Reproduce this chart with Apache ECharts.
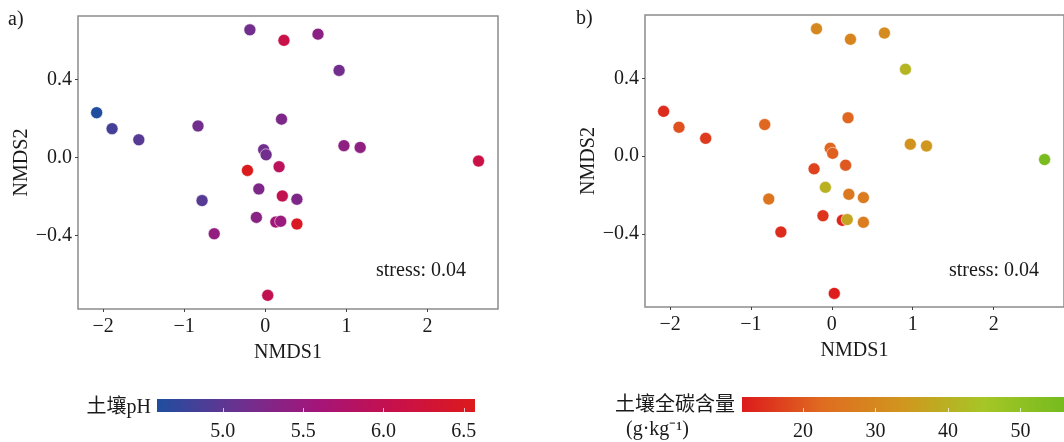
<!doctype html>
<html lang="zh" style="height: 100%">

<head>
  <meta charset="utf-8" />
  <script type="text/javascript" src="https://fastly.jsdelivr.net/npm/echarts@6.0.0/dist/echarts.min.js"></script>
</head>

<body style="height: 100%; margin: 0; background: #fff">
  <div id="main" style="width: 1064px; height: 442px"></div>
  <script type="text/javascript">
    // NMDS site scores (same ordination drawn in both panels)
    var nmds1 = [-2.08, -1.89, -1.56, -0.83, -0.78, -0.63, -0.19, 0.23, 0.65, 0.91, 0.20, -0.02, 0.01,
                 -0.22, 0.17, 0.97, 1.17, 2.63, -0.08, 0.21, 0.39, -0.11, 0.13, 0.19, 0.39, 0.03];
    var nmds2 = [0.231, 0.149, 0.092, 0.163, -0.220, -0.390, 0.656, 0.602, 0.634, 0.448, 0.198, 0.041, 0.015,
                 -0.065, -0.046, 0.062, 0.053, -0.017, -0.160, -0.196, -0.213, -0.306, -0.330, -0.326, -0.340, -0.706];
    // soil pH (panel a) and soil total carbon g/kg (panel b)
    var soilPH = [4.60, 4.85, 4.95, 5.15, 4.95, 5.45, 5.15, 6.10, 5.35, 5.15, 5.25, 5.15, 5.15,
                  6.55, 5.90, 5.40, 5.40, 6.10, 5.25, 6.00, 5.25, 5.35, 5.60, 5.50, 6.50, 6.00];
    var soilC = [14, 19, 16, 22, 25, 14, 30, 29, 31, 41, 22, 22, 21,
                 17, 20, 33, 34, 55, 40, 26, 27, 15, 13, 37, 27, 12];

    var phRange = [4.59, 6.57];
    var phTicks = [5.0, 5.5, 6.0, 6.5];
    var cRange = [11.6, 56];
    var cTicks = [20, 30, 40, 50];
    var xTicks = [-2, -1, 0, 1, 2];
    var yTicks = [-0.4, 0, 0.4];

    var phColors = ['#1f4e9f', '#6a3290', '#a3157a', '#c8104a', '#dc1a1c'];
    var cColors = ['#dc1a1c', '#e06c20', '#d0961e', '#a6c626', '#76bb1f'];

    var FONT = '"Liberation Serif", "Noto Sans CJK SC", serif';
    var chart = echarts.init(document.getElementById('main'));

    function pts(vals) {
      return nmds1.map(function (x, i) { return [x, nmds2[i], vals[i]]; });
    }
    function minus(v, d) {
      var s = Math.abs(v).toFixed(d);
      return v < 0 ? '\u2212' + s : s;
    }

    function plotAxes(gi) {
      return {
        x: {
          gridIndex: gi, type: 'value', min: -2.31, max: 2.87,
          name: 'NMDS1', nameLocation: 'middle', nameGap: 34,
          nameTextStyle: { fontFamily: FONT, fontSize: 20, color: '#1a1a1a' },
          axisLine: { show: false, onZero: false },
          axisTick: { show: true, customValues: xTicks, length: 3, lineStyle: { color: '#444' } },
          axisLabel: { customValues: xTicks, margin: 8, fontFamily: FONT, fontSize: 20, color: '#1a1a1a',
                       formatter: function (v) { return minus(v, 0); } },
          splitLine: { show: false }
        },
        y: {
          gridIndex: gi, type: 'value', min: -0.776, max: 0.727,
          name: 'NMDS2', nameLocation: 'middle', nameGap: 41,
          nameTextStyle: { fontFamily: FONT, fontSize: 20, color: '#1a1a1a' },
          axisLine: { show: false, onZero: false },
          axisTick: { show: true, customValues: yTicks, length: 3, lineStyle: { color: '#444' } },
          axisLabel: { customValues: yTicks, margin: 6, fontFamily: FONT, fontSize: 20, color: '#1a1a1a',
                       formatter: function (v) { return minus(v, 1); } },
          splitLine: { show: false }
        }
      };
    }

    function barAxes(gi, range, ticks, dec) {
      return {
        x: {
          gridIndex: gi, type: 'value', min: range[0], max: range[1], z: 5,
          axisLine: { show: false, onZero: false },
          axisTick: { show: true, inside: true, customValues: ticks, length: 4,
                      lineStyle: { color: 'rgba(255,255,255,0.7)', width: 1 } },
          axisLabel: { customValues: ticks, margin: 10, fontFamily: FONT, fontSize: 20, color: '#1a1a1a',
                       formatter: function (v) { return v.toFixed(dec); } },
          splitLine: { show: false }
        },
        y: { gridIndex: gi, type: 'value', min: 0, max: 1, show: false }
      };
    }

    function barSeries(idx, range, colors) {
      return {
        type: 'custom', xAxisIndex: idx, yAxisIndex: idx, silent: true,
        data: [[range[0], range[1]]],
        renderItem: function (params, api) {
          var a = api.coord([api.value(0), 1]);
          var b = api.coord([api.value(1), 0]);
          var stops = colors.map(function (c, i) { return { offset: i / (colors.length - 1), color: c }; });
          return {
            type: 'rect',
            shape: { x: a[0], y: a[1], width: b[0] - a[0], height: b[1] - a[1] },
            style: { fill: new echarts.graphic.LinearGradient(0, 0, 1, 0, stops) }
          };
        }
      };
    }

    var pa = plotAxes(0), pb = plotAxes(1);
    var ba = barAxes(2, phRange, phTicks, 1), bb = barAxes(3, cRange, cTicks, 0);

    function scatter(idx, vals) {
      return {
        type: 'scatter', xAxisIndex: idx, yAxisIndex: idx,
        data: pts(vals), symbolSize: 12,
        itemStyle: { opacity: 1, borderColor: 'rgba(255,255,255,0.55)', borderWidth: 1 }
      };
    }

    var option = {
      animation: false,
      grid: [
        { left: 78, top: 16, width: 420, height: 293, show: true, borderColor: '#8c8c8c', borderWidth: 1.5 },
        { left: 645, top: 15, width: 420, height: 292, show: true, borderColor: '#8c8c8c', borderWidth: 1.5 },
        { left: 157, top: 399, width: 318, height: 18 },
        { left: 742, top: 397, width: 345, height: 19 }
      ],
      xAxis: [pa.x, pb.x, ba.x, bb.x],
      yAxis: [pa.y, pb.y, ba.y, bb.y],
      visualMap: [
        { type: 'continuous', show: false, seriesIndex: 0, dimension: 2,
          min: phRange[0], max: phRange[1], inRange: { color: phColors } },
        { type: 'continuous', show: false, seriesIndex: 1, dimension: 2,
          min: cRange[0], max: cRange[1], inRange: { color: cColors } }
      ],
      series: [
        scatter(0, soilPH),
        scatter(1, soilC),
        barSeries(2, phRange, phColors),
        barSeries(3, cRange, cColors)
      ],
      graphic: [
        { type: 'text', left: 8, top: 10, style: { text: 'a)', font: '20px ' + FONT, fill: '#1a1a1a' } },
        { type: 'text', left: 576, top: 9, style: { text: 'b)', font: '20px ' + FONT, fill: '#1a1a1a' } },
        { type: 'text', left: 376, top: 261, style: { text: 'stress: 0.04', font: '20px ' + FONT, fill: '#1a1a1a' } },
        { type: 'text', left: 949, top: 261, style: { text: 'stress: 0.04', font: '20px ' + FONT, fill: '#1a1a1a' } },
        { type: 'text', right: 1064 - 151, top: 398, style: { text: '土壤pH', font: '20px ' + FONT, fill: '#1a1a1a' } },
        { type: 'text', right: 1064 - 735, top: 396, style: { text: '土壤全碳含量', font: '20px ' + FONT, fill: '#1a1a1a' } },
        { type: 'text', left: 626, top: 420, style: { text: '(g·kg⁻¹)', font: '20px ' + FONT, fill: '#1a1a1a' } }
      ]
    };
    chart.setOption(option);
  </script>
</body>

</html>
